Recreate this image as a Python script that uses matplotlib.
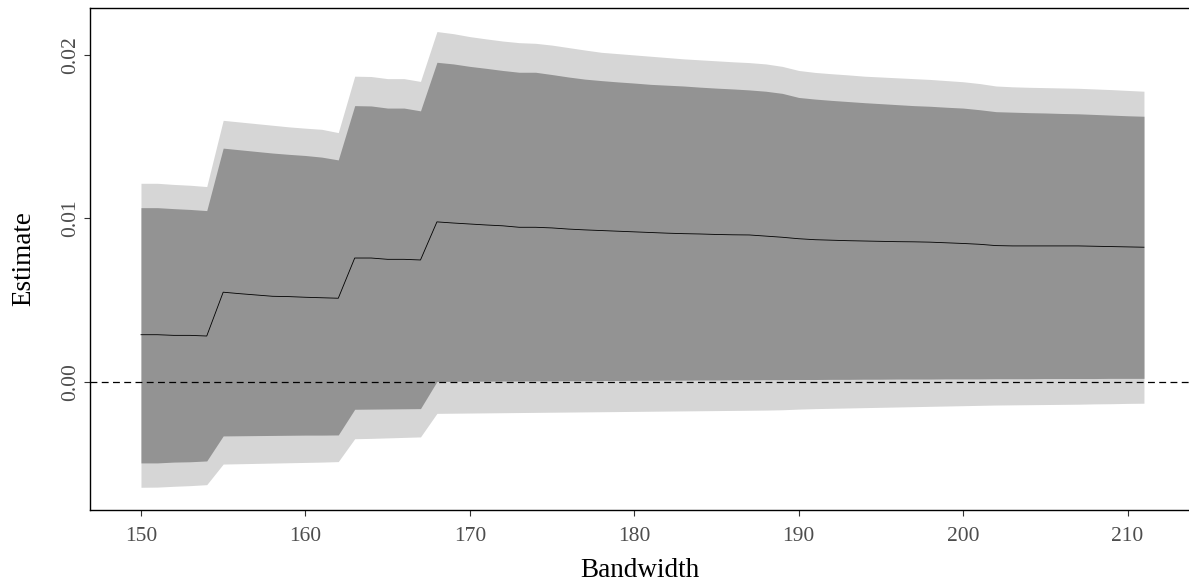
import numpy as np
import matplotlib
matplotlib.use("Agg")
import matplotlib.pyplot as plt

# Bandwidth grid (one estimate per integer bandwidth)
bandwidth = list(range(150, 212))

estimate = [
    0.00289, 0.00289, 0.00285, 0.00285, 0.00281,
    0.00549, 0.00540, 0.00532, 0.00524, 0.00522, 0.00518, 0.00515, 0.00512,
    0.00758, 0.00758, 0.00750, 0.00750, 0.00746,
    0.00979, 0.00972, 0.00966, 0.00960, 0.00955, 0.00946, 0.00946, 0.00942,
    0.00935, 0.00930, 0.00926, 0.00922, 0.00918, 0.00914, 0.00910, 0.00907,
    0.00905, 0.00902, 0.00900, 0.00899, 0.00892, 0.00885, 0.00876, 0.00870,
    0.00867, 0.00864, 0.00862, 0.00860, 0.00858, 0.00857, 0.00855, 0.00851,
    0.00847, 0.00842, 0.00834, 0.00832, 0.00832, 0.00832, 0.00832, 0.00832,
    0.00830, 0.00828, 0.00826, 0.00824,
]

upper_90 = [
    0.01066, 0.01066, 0.01060, 0.01055, 0.01048,
    0.01430, 0.01420, 0.01410, 0.01400, 0.01392, 0.01385, 0.01375, 0.01358,
    0.01690, 0.01688, 0.01675, 0.01675, 0.01658,
    0.01955, 0.01945, 0.01930, 0.01918, 0.01905, 0.01894, 0.01894, 0.01880,
    0.01865, 0.01852, 0.01843, 0.01835, 0.01828, 0.01820, 0.01815, 0.01810,
    0.01803, 0.01797, 0.01792, 0.01786, 0.01778, 0.01765, 0.01740, 0.01730,
    0.01722, 0.01715, 0.01708, 0.01702, 0.01696, 0.01690, 0.01686, 0.01680,
    0.01675, 0.01665, 0.01653, 0.01650, 0.01647, 0.01645, 0.01642, 0.01640,
    0.01636, 0.01632, 0.01628, 0.01625,
]

lower_90 = [
    -0.00495, -0.00495, -0.00490, -0.00488, -0.00483,
    -0.00330, -0.00329, -0.00328, -0.00327, -0.00326, -0.00325, -0.00325, -0.00324,
    -0.00167, -0.00166, -0.00165, -0.00164, -0.00163,
    0.00003, 0.00004, 0.00005, 0.00005, 0.00006, 0.00006, 0.00007, 0.00007,
    0.00008, 0.00008, 0.00009, 0.00009, 0.00010, 0.00010, 0.00011, 0.00011,
    0.00012, 0.00012, 0.00013, 0.00013, 0.00014, 0.00014, 0.00015, 0.00015,
    0.00016, 0.00016, 0.00017, 0.00017, 0.00018, 0.00018, 0.00018, 0.00019,
    0.00019, 0.00019, 0.00020, 0.00020, 0.00020, 0.00021, 0.00021, 0.00021,
    0.00021, 0.00022, 0.00022, 0.00022,
]

upper_95 = [
    0.01215, 0.01215, 0.01208, 0.01203, 0.01195,
    0.01600, 0.01590, 0.01580, 0.01570, 0.01560, 0.01552, 0.01545, 0.01525,
    0.01870, 0.01868, 0.01855, 0.01855, 0.01838,
    0.02143, 0.02130, 0.02112, 0.02098, 0.02085, 0.02075, 0.02071, 0.02060,
    0.02045, 0.02030, 0.02016, 0.02008, 0.02000, 0.01992, 0.01984, 0.01976,
    0.01970, 0.01964, 0.01958, 0.01953, 0.01945, 0.01930, 0.01905, 0.01893,
    0.01885, 0.01878, 0.01870, 0.01865, 0.01860, 0.01855, 0.01850, 0.01843,
    0.01836, 0.01825, 0.01810, 0.01805, 0.01802, 0.01800, 0.01798, 0.01796,
    0.01792, 0.01788, 0.01783, 0.01778,
]

lower_95 = [
    -0.00644, -0.00643, -0.00638, -0.00634, -0.00628,
    -0.00502, -0.00500, -0.00498, -0.00496, -0.00494, -0.00492, -0.00490, -0.00487,
    -0.00347, -0.00345, -0.00342, -0.00339, -0.00336,
    -0.00192, -0.00191, -0.00190, -0.00189, -0.00188, -0.00187, -0.00186, -0.00185,
    -0.00184, -0.00183, -0.00182, -0.00181, -0.00180, -0.00179, -0.00178, -0.00177,
    -0.00176, -0.00175, -0.00174, -0.00173, -0.00172, -0.00170, -0.00166, -0.00163,
    -0.00161, -0.00159, -0.00157, -0.00155, -0.00153, -0.00151, -0.00149, -0.00147,
    -0.00145, -0.00143, -0.00141, -0.00140, -0.00139, -0.00138, -0.00137, -0.00136,
    -0.00134, -0.00133, -0.00131, -0.00130,
]

plt.rcParams["font.family"] = ["Liberation Serif", "DejaVu Serif"]

fig = plt.figure(figsize=(11.89, 5.87), dpi=100)
ax = fig.add_axes([90 / 1189, 77 / 587, 1099 / 1189, 502 / 587])

# confidence bands
ax.fill_between(bandwidth, lower_95, upper_95, color="#d6d6d6", linewidth=0)
ax.fill_between(bandwidth, lower_90, upper_90, color="#939393", linewidth=0)

# point estimates
ax.plot(bandwidth, estimate, color="black", linewidth=0.6)

# zero reference line
ax.axhline(0, color="black", linewidth=0.9, dashes=(5.5, 3.5))

ax.set_xlim(146.9, 213.74)
ax.set_ylim(-0.00783, 0.02287)
ax.set_xticks([150, 160, 170, 180, 190, 200, 210])
ax.set_yticks([0.0, 0.01, 0.02])
ax.set_yticklabels(["0.00", "0.01", "0.02"], rotation=90, va="center")

ax.tick_params(axis="both", labelsize=15.5, labelcolor="#4d4d4d", length=4,
               width=0.8, color="#333333")
ax.tick_params(axis="x", pad=8)
ax.tick_params(axis="y", pad=3)

for side in ["left", "bottom", "top"]:
    ax.spines[side].set_linewidth(1.0)
    ax.spines[side].set_color("black")
ax.spines["right"].set_visible(False)

ax.set_xlabel("Bandwidth", fontsize=19.5, labelpad=9)
ax.set_ylabel("Estimate", fontsize=19.5, labelpad=18)

fig.savefig("out.png", dpi=100)
